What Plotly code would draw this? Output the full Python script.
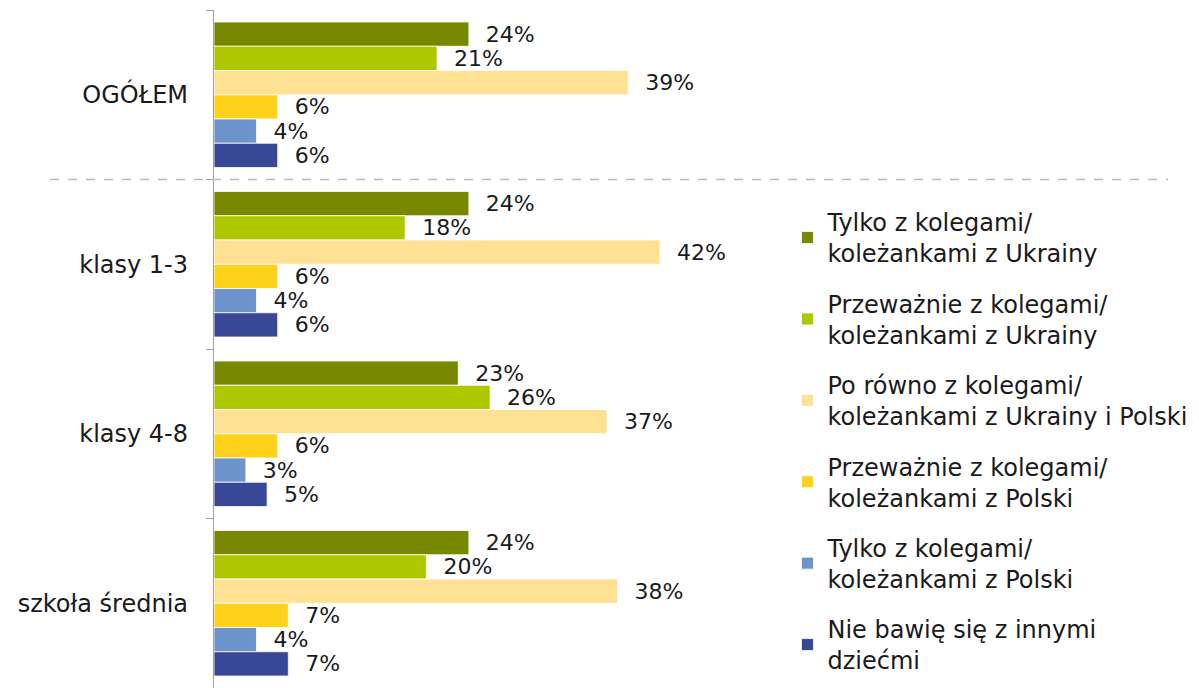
import plotly.graph_objects as go

categories = ["OGÓŁEM", "klasy 1-3", "klasy 4-8", "szkoła średnia"]
series_names = [
    "Tylko z kolegami/<br>koleżankami z Ukrainy",
    "Przeważnie z kolegami/<br>koleżankami z Ukrainy",
    "Po równo z kolegami/<br>koleżankami z Ukrainy i Polski",
    "Przeważnie z kolegami/<br>koleżankami z Polski",
    "Tylko z kolegami/<br>koleżankami z Polski",
    "Nie bawię się z innymi<br>dziećmi",
]
tylko_ua = [24, 24, 23, 24]
glownie_ua = [21, 18, 26, 20]
po_rowno = [39, 42, 37, 38]
glownie_pl = [6, 6, 6, 7]
tylko_pl = [4, 4, 3, 4]
nie_bawie = [6, 6, 5, 7]
series_values = [tylko_ua, glownie_ua, po_rowno, glownie_pl, tylko_pl, nie_bawie]
colors = ["#778800", "#AEC800", "#FEE192", "#FED21A", "#6C94CB", "#394896"]

FONT = "DejaVu Sans"
positions = list(range(len(categories)))

fig = go.Figure()
for i, (name, vals, col) in enumerate(zip(series_names, series_values, colors)):
    fig.add_trace(go.Bar(
        name=name,
        y=positions,
        x=vals,
        orientation="h",
        marker=dict(color=col, line=dict(color="white", width=0.8)),
        text=["\u00a0\u00a0%d%%" % v for v in vals],
        textposition="outside",
        textfont=dict(family=FONT, size=22, color="#1a1a1a"),
        constraintext="none",
        cliponaxis=False,
        legendgroup="g%d" % i,
    ))

fig.update_layout(
    width=1191, height=680,
    margin=dict(l=206, r=454, t=2, b=0, autoexpand=False),
    barmode="group",
    bargap=0.1416,
    bargroupgap=0,
    plot_bgcolor="white",
    paper_bgcolor="white",
    font=dict(family=FONT, size=24, color="#1a1a1a"),
    showlegend=True,
    legend=dict(
        x=1.08, y=0.72, xanchor="left", yanchor="top",
        font=dict(family=FONT, size=24, color="#1a1a1a"),
        tracegroupgap=16,
        bgcolor="rgba(0,0,0,0)",
    ),
    shapes=[dict(
        type="line", xref="paper", yref="y",
        x0=(50 - 214) / 531, x1=(1168 - 214) / 531, y0=0.5, y1=0.5,
        line=dict(color="#BBBBBB", width=1.3, dash="dash"),
    )],
)
fig.update_xaxes(range=[0, 50], visible=False, showgrid=False, zeroline=False)
fig.update_yaxes(
    range=[3.5, -0.5],
    tickmode="array", tickvals=positions, ticktext=categories,
    ticks="", showgrid=False, zeroline=False,
    showline=True, linecolor="#A0A0A0", linewidth=1.3,
    ticklabelstandoff=20,
    tickfont=dict(family=FONT, size=24, color="#1a1a1a"),
    minor=dict(tickmode="linear", tick0=-0.5, dtick=1, ticks="outside",
               ticklen=7, tickcolor="#A0A0A0", tickwidth=1.3, showgrid=False),
)

fig.write_html("out.html")
